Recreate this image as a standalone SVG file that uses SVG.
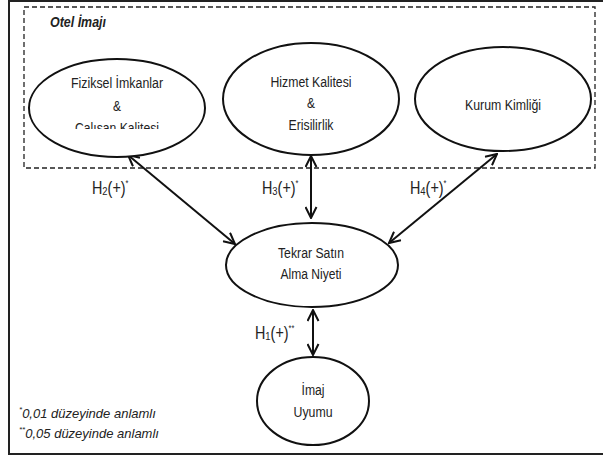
<svg xmlns="http://www.w3.org/2000/svg" width="603" height="457" viewBox="0 0 603 457">
<style>
.t{font-family:"Liberation Sans",Arial,sans-serif;font-size:15.5px;fill:#222;text-anchor:middle}
.l{font-family:"Liberation Sans",Arial,sans-serif;font-size:17.5px;fill:#222}
.n{fill:#fff;stroke:#111;stroke-width:2}
.c{stroke:#111;stroke-width:2;fill:none;marker-end:url(#ah);marker-start:url(#ah)}
.sub{font-size:11.5px}
.sup{font-size:9px}
.f{font-family:"Liberation Sans",Arial,sans-serif;font-size:13px;font-style:italic;fill:#222}
</style>
<defs>
<marker id="ah" viewBox="0 0 13 13" refX="12" refY="6.5" markerWidth="13" markerHeight="13" markerUnits="userSpaceOnUse" orient="auto-start-reverse">
<path d="M1,1 L12,6.5 L1,12" fill="none" stroke="#111" stroke-width="2"/>
</marker>
<clipPath id="clip1"><rect x="0" y="0" width="603" height="129"/></clipPath>
</defs>
<rect x="9" y="1" width="600" height="453" fill="#fff" stroke="#222" stroke-width="2"/>
<g id="otel-imaji">
<rect x="24" y="7" width="571" height="161" fill="none" stroke="#222" stroke-width="1.3" stroke-dasharray="5,3"/>
<text transform="translate(50,27) scale(0.83,1)" style="font-family:'Liberation Sans',Arial,sans-serif;font-size:15px;font-weight:bold;font-style:italic;fill:#222">Otel İmajı</text>
</g>
<g id="connectors">
<line class="c" x1="128" y1="155" x2="235" y2="244"/>
<line class="c" x1="311" y1="156" x2="311" y2="218"/>
<line class="c" x1="497" y1="154" x2="389" y2="243"/>
<line class="c" x1="313" y1="310" x2="313" y2="355"/>
<text class="l" transform="translate(92,194) scale(0.82,1)">H<tspan class="sub" dy="1">2</tspan><tspan dy="-1">(+)</tspan><tspan class="sup" dy="-8">*</tspan></text>
<text class="l" transform="translate(262,194) scale(0.82,1)">H<tspan class="sub" dy="1">3</tspan><tspan dy="-1">(+)</tspan><tspan class="sup" dy="-8">*</tspan></text>
<text class="l" transform="translate(410,194) scale(0.82,1)">H<tspan class="sub" dy="1">4</tspan><tspan dy="-1">(+)</tspan><tspan class="sup" dy="-8">*</tspan></text>
<text class="l" transform="translate(255,339) scale(0.82,1)">H<tspan class="sub" dy="1">1</tspan><tspan dy="-1">(+)</tspan><tspan class="sup" dy="-8">**</tspan></text>
</g>
<g id="fiziksel">
<ellipse class="n" cx="117" cy="108" rx="88" ry="49"/>
<text class="t" x="117" y="88" textLength="92" lengthAdjust="spacingAndGlyphs">Fiziksel İmkanlar</text>
<text class="t" x="117" y="111" textLength="8" lengthAdjust="spacingAndGlyphs">&amp;</text>
<text class="t" x="117" y="133" clip-path="url(#clip1)" textLength="84" lengthAdjust="spacingAndGlyphs">Calısan Kalitesi</text>
</g>
<g id="hizmet">
<ellipse class="n" cx="311" cy="99" rx="88" ry="56"/>
<text class="t" x="311" y="87" textLength="81" lengthAdjust="spacingAndGlyphs">Hizmet Kalitesi</text>
<text class="t" x="311" y="108" textLength="8" lengthAdjust="spacingAndGlyphs">&amp;</text>
<text class="t" x="311" y="130" textLength="45" lengthAdjust="spacingAndGlyphs">Erisilirlik</text>
</g>
<g id="kurum">
<ellipse class="n" cx="503" cy="99" rx="88" ry="52"/>
<text class="t" x="503" y="110" textLength="76" lengthAdjust="spacingAndGlyphs">Kurum Kimliği</text>
</g>
<g id="tekrar">
<ellipse class="n" cx="312" cy="265" rx="86" ry="42"/>
<text class="t" x="311" y="258" textLength="66" lengthAdjust="spacingAndGlyphs">Tekrar Satın</text>
<text class="t" x="311" y="279" textLength="61" lengthAdjust="spacingAndGlyphs">Alma Niyeti</text>
</g>
<g id="imaj">
<ellipse class="n" cx="313" cy="401" rx="56" ry="44"/>
<text class="t" x="313" y="395" textLength="23" lengthAdjust="spacingAndGlyphs">İmaj</text>
<text class="t" x="313" y="417" textLength="39" lengthAdjust="spacingAndGlyphs">Uyumu</text>
</g>
<g id="notes">
<text class="f" x="19" y="418"><tspan font-size="8" dy="-6">*</tspan><tspan dy="6">0,01 düzeyinde anlamlı</tspan></text>
<text class="f" x="19" y="438"><tspan font-size="8" dy="-6">**</tspan><tspan dy="6">0,05 düzeyinde anlamlı</tspan></text>
</g>
</svg>
